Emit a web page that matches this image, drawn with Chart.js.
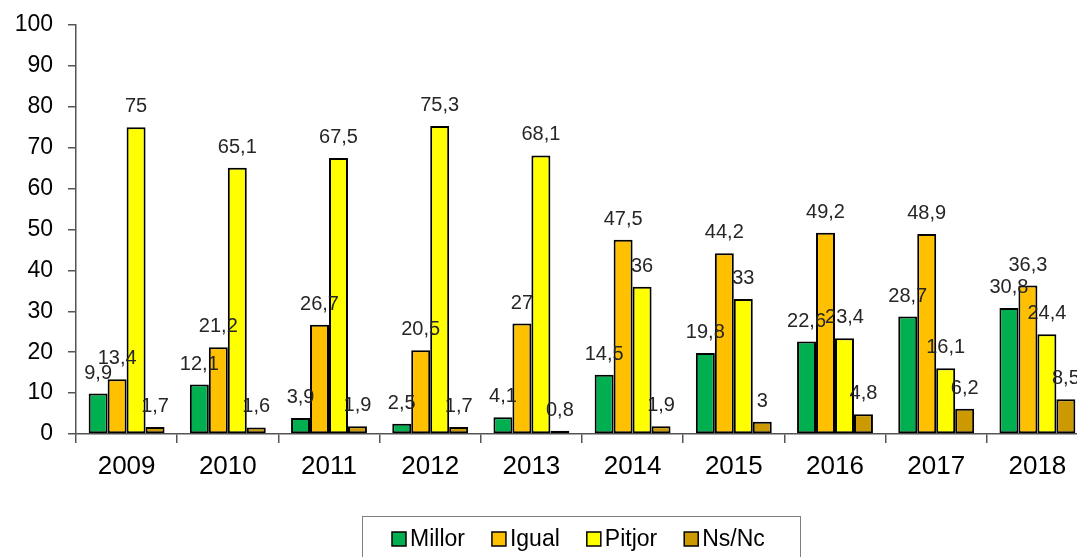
<!DOCTYPE html>
<html>
<head>
<meta charset="utf-8">
<script src="https://cdn.jsdelivr.net/npm/chart.js@4.4.1/dist/chart.umd.min.js"></script>
<style>
  html, body { margin: 0; padding: 0; background: #fff; overflow: hidden; width: 1077px; height: 557px; }
  canvas { display: block; }
</style>
</head>
<body>
<canvas id="c" width="1092" height="557"></canvas>
<script>
const categories = ['2009', '2010', '2011', '2012', '2013', '2014', '2015', '2016', '2017', '2018'];
const seriesNames = ['Millor', 'Igual', 'Pitjor', 'Ns/Nc'];
const millor = [9.9, 12.1, 3.9, 2.5, 4.1, 14.5, 19.8, 22.6, 28.7, 30.8];
const igual  = [13.4, 21.2, 26.7, 20.5, 27, 47.5, 44.2, 49.2, 48.9, 36.3];
const pitjor = [75, 65.1, 67.5, 75.3, 68.1, 36, 33, 23.4, 16.1, 24.4];
const nsnc   = [1.7, 1.6, 1.9, 1.7, 0.8, 1.9, 3, 4.8, 6.2, 8.5];
const yTicks = [0, 10, 20, 30, 40, 50, 60, 70, 80, 90, 100];

const colors = ['#00B050', '#FFC000', '#FFFF00', '#CC9900'];
const FONT = "'Liberation Sans', Arial, sans-serif";
const AXIS = '#555555';

const valueLabels = {
  id: 'valueLabels',
  afterDatasetsDraw(chart) {
    const ctx = chart.ctx;
    ctx.save();
    ctx.font = '20px ' + FONT;
    ctx.fillStyle = '#262626';
    ctx.textAlign = 'center';
    ctx.textBaseline = 'alphabetic';
    chart.data.datasets.forEach((ds, i) => {
      const meta = chart.getDatasetMeta(i);
      meta.data.forEach((bar, j) => {
        const txt = String(ds.data[j]).replace('.', ',');
        ctx.fillText(txt, bar.x, bar.y - 15);
      });
    });
    ctx.restore();
  }
};

const boxedLegend = {
  id: 'boxedLegend',
  afterDraw(chart) {
    const ctx = chart.ctx;
    ctx.save();
    ctx.strokeStyle = '#7f7f7f';
    ctx.lineWidth = 1;
    ctx.strokeRect(362.5, 516.5, 438, 60);
    ctx.font = '23px ' + FONT;
    ctx.textBaseline = 'middle';
    ctx.textAlign = 'left';
    const sq = 14, gapText = 4, gapItem = 27;
    const items = chart.data.datasets.map(ds => ({
      label: ds.label, color: ds.backgroundColor, w: ctx.measureText(ds.label).width
    }));
    let total = 0;
    items.forEach((it, k) => { total += sq + gapText + it.w + (k < items.length - 1 ? gapItem : 0); });
    let x = Math.round(362 + (438 - total) / 2) - 3;
    const cy = 539;
    items.forEach(it => {
      ctx.fillStyle = it.color;
      ctx.fillRect(x, cy - sq / 2, sq, sq);
      ctx.strokeStyle = '#000';
      ctx.lineWidth = 1.5;
      ctx.strokeRect(x, cy - sq / 2, sq, sq);
      ctx.fillStyle = '#000';
      ctx.fillText(it.label, x + sq + gapText, cy + 1);
      x += sq + gapText + it.w + gapItem;
    });
    ctx.restore();
  }
};

const seriesData = [millor, igual, pitjor, nsnc];

new Chart(document.getElementById('c'), {
  type: 'bar',
  data: {
    labels: categories,
    datasets: seriesNames.map((name, i) => ({
      label: name,
      data: seriesData[i],
      backgroundColor: colors[i],
      borderColor: '#000000',
      borderWidth: 2,
      borderSkipped: false,
      barPercentage: 1.0,
      categoryPercentage: 0.75
    }))
  },
  options: {
    responsive: false,
    animation: false,
    devicePixelRatio: 1,
    layout: { padding: { top: 25, right: 4, bottom: 63, left: 0 } },
    plugins: {
      legend: { display: false },
      tooltip: { enabled: false }
    },
    scales: {
      x: {
        grid: { display: true, drawOnChartArea: false, drawTicks: true, tickLength: 9, color: AXIS, lineWidth: 1.5, offset: true },
        border: { display: true, color: AXIS, width: 1.5 },
        ticks: { color: '#000', font: { family: FONT, size: 26 }, padding: 8, maxRotation: 0 },
        afterFit(scale) { scale.height = 60; scale.paddingLeft = 0; scale.paddingRight = 0; }
      },
      y: {
        min: 0,
        max: 100,
        afterBuildTicks(scale) { scale.ticks = yTicks.map(v => ({ value: v })); },
        grid: { display: true, drawOnChartArea: false, drawTicks: true, tickLength: 8, color: AXIS, lineWidth: 1.5 },
        border: { display: true, color: AXIS, width: 1.5 },
        ticks: { color: '#000', font: { family: FONT, size: 23 }, padding: 15 },
        afterFit(scale) { scale.width = 76; scale.paddingTop = 0; scale.paddingBottom = 0; }
      }
    }
  },
  plugins: [valueLabels, boxedLegend]
});
</script>
</body>
</html>
